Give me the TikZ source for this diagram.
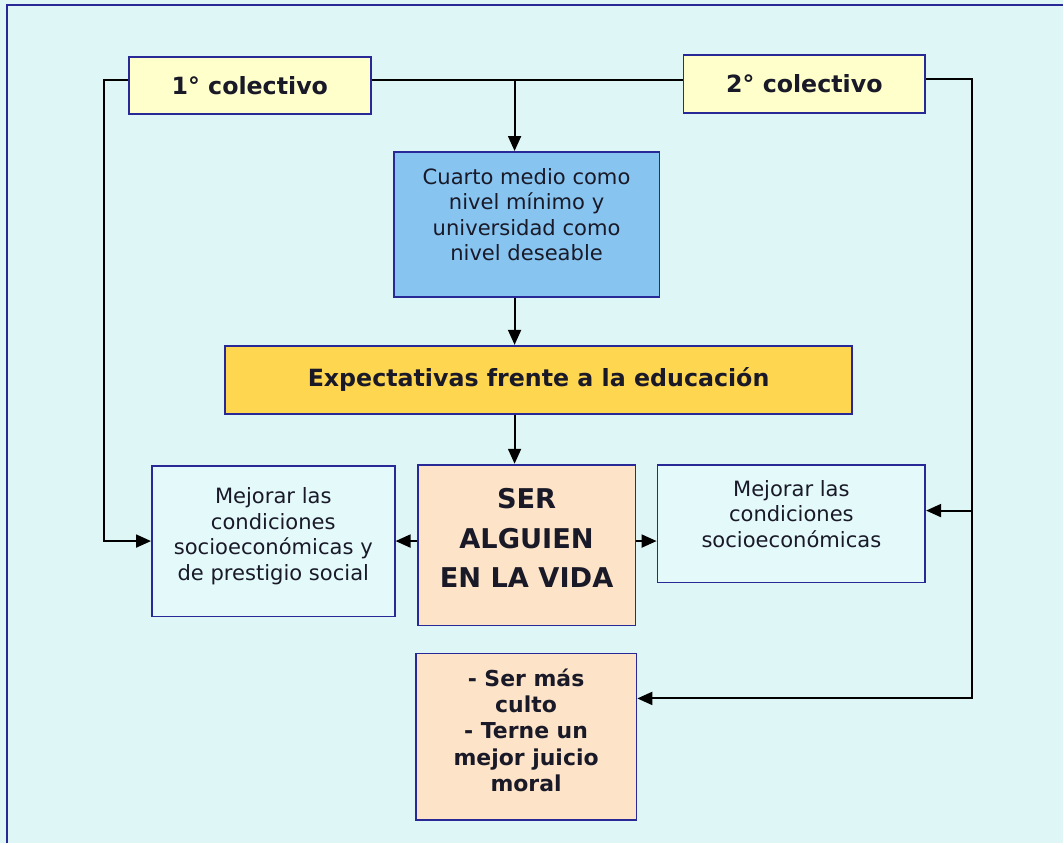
\documentclass[tikz,border=0pt]{standalone}
\usepackage{fontspec}
\setmainfont{DejaVu Sans}
\usetikzlibrary{arrows.meta}

\definecolor{fondo}{RGB}{222,247,246}
\definecolor{borde}{RGB}{40,40,150}
\definecolor{tinta}{RGB}{25,25,40}
\definecolor{amarillo}{RGB}{255,255,204}
\definecolor{celeste}{RGB}{135,196,240}
\definecolor{dorado}{RGB}{255,214,80}
\definecolor{durazno}{RGB}{253,228,200}
\definecolor{claro}{RGB}{228,250,250}

\begin{document}
\begin{tikzpicture}[x=0.02cm,y=-0.02cm,>={Triangle[length=0.3cm,width=0.26cm]},
  caja/.style={draw=borde,line width=1pt,align=center,inner sep=2pt,text=tinta},
  texto/.style={font=\fontsize{12}{14.5}\selectfont},
  negrita/.style={font=\bfseries\fontsize{12.5}{15}\selectfont},
  flecha/.style={->,line width=1.1pt}]

%---------------- Fondo y marco ----------------
\fill[fondo] (0,0) rectangle (1064,844);
\draw[borde,line width=1pt] (7,844) -- (7,5) -- (1064,5);

%---------------- Colectivos ----------------
\node[caja,fill=amarillo,minimum width=4.84cm,minimum height=1.14cm,
  font=\bfseries\fontsize{13.5}{16}\selectfont] (col1) at (250,85.5) {1° colectivo};
\node[caja,fill=amarillo,minimum width=4.84cm,minimum height=1.16cm,
  font=\bfseries\fontsize{13.5}{16}\selectfont] (col2) at (805,84) {2° colectivo};

% Nivel educativo
\node[caja,texto,fill=celeste,minimum width=5.32cm,minimum height=2.9cm,text depth=0.4cm]
  (cuarto) at (527,224.5) {Cuarto medio como\\nivel mínimo y\\universidad como\\nivel deseable};

% Expectativas
\node[caja,fill=dorado,minimum width=12.56cm,minimum height=1.36cm,
  font=\bfseries\fontsize{13.5}{16}\selectfont] (expect) at (539,380)
  {Expectativas frente a la educación};

%---------------- Fila central ----------------
\node[caja,fill=durazno,minimum width=4.36cm,minimum height=3.22cm,text depth=0.28cm,
  font=\bfseries\fontsize{15.5}{22.5}\selectfont] (ser) at (527,545.5)
  {SER\\ALGUIEN\\EN LA VIDA};
\node[caja,texto,fill=claro,minimum width=4.86cm,minimum height=3.02cm,text depth=0.28cm]
  (mejL) at (273.5,541.5)
  {Mejorar las\\condiciones\\socioeconómicas y\\de prestigio social};
\node[caja,texto,fill=claro,minimum width=5.36cm,minimum height=2.36cm,text depth=0.4cm]
  (mejR) at (792,524) {Mejorar las\\condiciones\\socioeconómicas};

% Cultura
\node[caja,negrita,fill=durazno,minimum width=4.42cm,minimum height=3.34cm,text depth=0.28cm]
  (culto) at (526.5,737.5)
  {- Ser más\\culto\\- Terne un\\mejor juicio\\moral};

%---------------- Conectores ----------------
\coordinate (eje) at (515,80);
\coordinate (izq) at (104,80);
\coordinate (der) at (973,79);
\coordinate (derB) at (973,699);
\coordinate (rama) at (973,511);

\draw[line width=1.1pt] (col1.east |- eje) -- (col2.west |- eje);
\draw[flecha] (eje) -- (cuarto.north -| eje);
\draw[flecha] (cuarto.south -| eje) -- (expect.north -| eje);
\draw[flecha] (expect.south -| eje) -- (ser.north -| eje);

\draw[flecha] (col1.west |- izq) -- (izq) |- (mejL.west);
\draw[flecha] (col2.east |- der) -- (der) -- (derB) -- (culto.east |- derB);
\draw[flecha] (rama) -- (mejR.east |- rama);

\draw[flecha] (ser.west |- mejL.west) -- (mejL.east);
\draw[flecha] (ser.east |- mejL.east) -- (mejR.west |- mejL.east);

\end{tikzpicture}
\end{document}
